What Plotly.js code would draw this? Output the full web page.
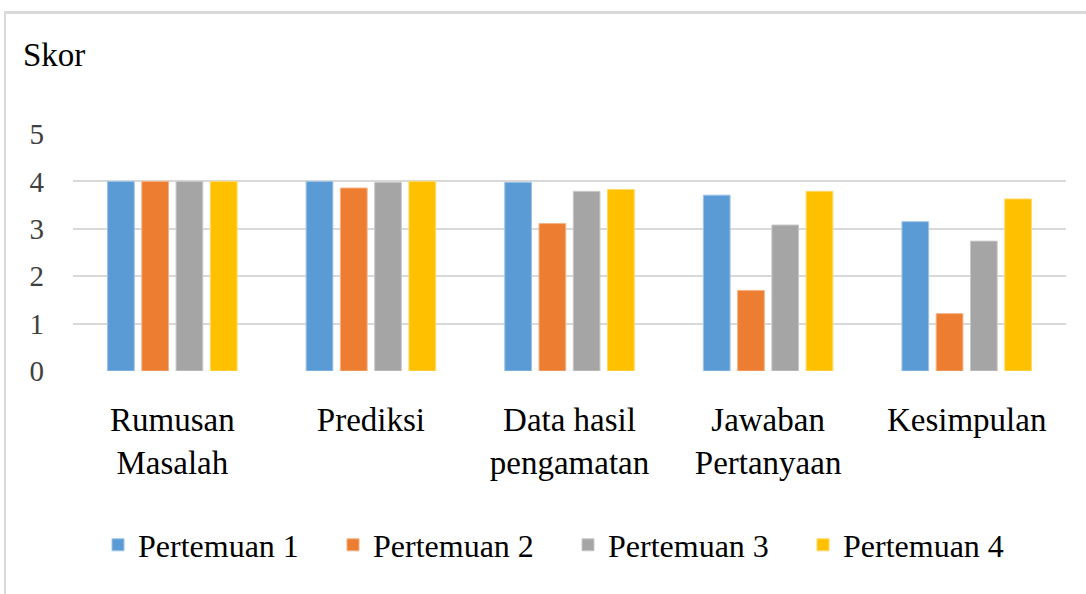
<!DOCTYPE html>
<html>
<head>
<meta charset="utf-8">
<script src="https://cdn.plot.ly/plotly-3.0.1.min.js"></script>
<style>
html,body{margin:0;padding:0;background:#fff;}
#wrap{position:relative;width:1086px;height:594px;overflow:hidden;}
#chart{position:absolute;left:0;top:0;width:1086px;height:594px;}
#frame{position:absolute;left:4px;top:11px;width:1090px;height:600px;border-top:3px solid #d9d9d9;border-left:2px solid #d9d9d9;pointer-events:none;}
</style>
</head>
<body>
<div id="wrap"><div id="chart"></div><div id="frame"></div></div>
<script>
const categories = ["Rumusan<br>Masalah", "Prediksi", "Data hasil<br>pengamatan", "Jawaban<br>Pertanyaan", "Kesimpulan"];
const seriesNames = ["Pertemuan 1", "Pertemuan 2", "Pertemuan 3", "Pertemuan 4"];
const pertemuan1 = [4.0, 4.0, 3.98, 3.71, 3.15];
const pertemuan2 = [4.0, 3.86, 3.11, 1.70, 1.21];
const pertemuan3 = [4.0, 3.98, 3.79, 3.08, 2.74];
const pertemuan4 = [4.0, 4.0, 3.83, 3.79, 3.63];
const yTicks = [0, 1, 2, 3, 4, 5];

const values = [pertemuan1, pertemuan2, pertemuan3, pertemuan4];
const colors = ["#5B9BD5", "#ED7D31", "#A5A5A5", "#FFC000"];
const lineColors = ["#9DC3E6", "#F4B183", "#C9C9C9", "#FFD966"];
const FONT = "Liberation Serif";

const traces = values.map((v, i) => ({
  type: "bar",
  name: seriesNames[i],
  x: categories,
  y: v,
  marker: {color: colors[i], line: {color: lineColors[i], width: 1}},
  hoverinfo: "skip"
}));

const layout = {
  width: 1086, height: 594,
  margin: {l: 73, r: 20, t: 134, b: 223},
  paper_bgcolor: "#fff", plot_bgcolor: "#fff",
  barmode: "group",
  bargap: 0.31,
  bargroupgap: 0.22,
  font: {family: FONT, color: "#000"},
  showlegend: true,
  legend: {
    orientation: "h", xref: "container", yref: "container",
    x: 568 / 1086, xanchor: "center", y: 1 - 545 / 594, yanchor: "middle",
    font: {family: FONT, size: 32, color: "#000"},
    entrywidth: 190, entrywidthmode: "pixels",
    traceorder: "normal"
  },
  xaxis: {
    type: "category",
    showgrid: false, zeroline: false, showline: false,
    ticks: "", ticklabelstandoff: 26,
    tickfont: {family: FONT, size: 33, color: "#000"}
  },
  yaxis: {
    range: [0, 5], tickvals: yTicks, ticktext: yTicks.map(String),
    showgrid: true, gridcolor: "#d9d9d9", gridwidth: 2,
    zeroline: false, showline: false, ticks: "",
    ticklabelstandoff: 28,
    tickfont: {family: FONT, size: 29, color: "#404040"}
  },
  annotations: [{
    text: "Skor", xref: "paper", yref: "paper",
    x: -0.052, y: 1 + (134 - 55) / 237, xanchor: "left", yanchor: "middle",
    showarrow: false, font: {family: FONT, size: 33, color: "#000"}
  }]
};

Plotly.newPlot("chart", traces, layout, {displayModeBar: false, staticPlot: true});
</script>
</body>
</html>
